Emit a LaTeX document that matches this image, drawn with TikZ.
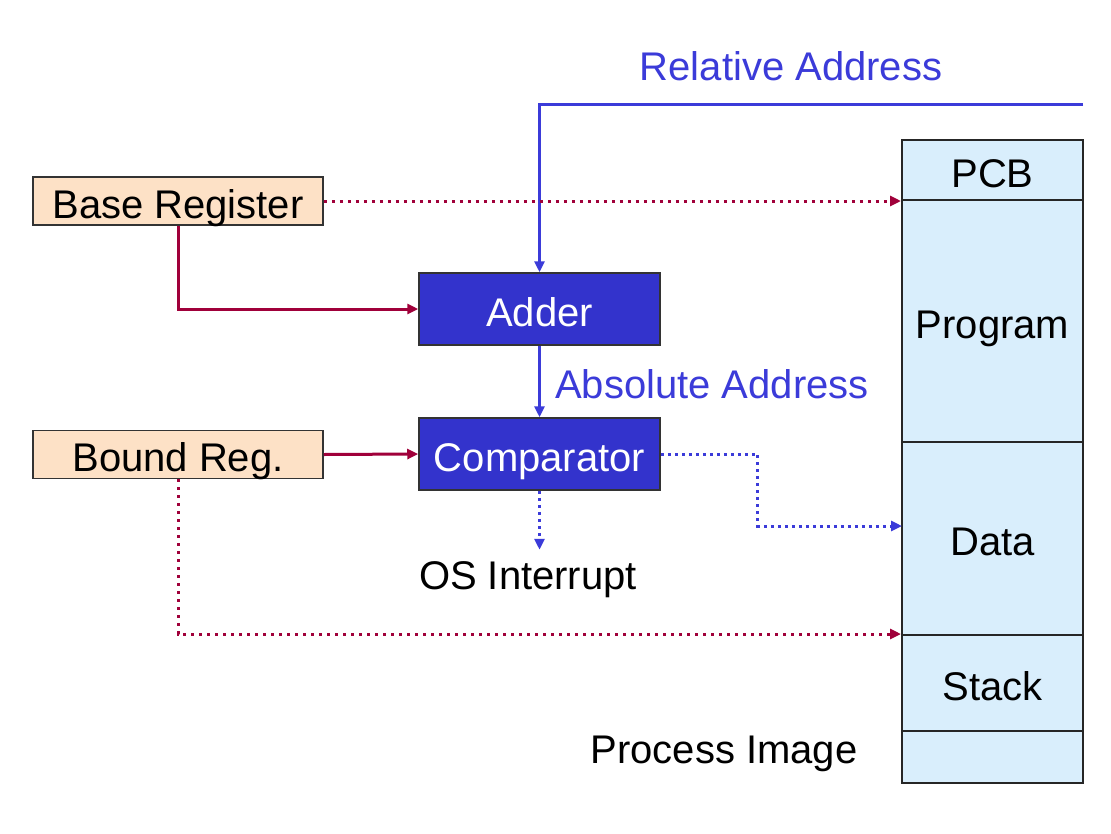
\documentclass[tikz,border=0pt]{standalone}
\usepackage{fontspec}
\setmainfont{Liberation Sans}
\usetikzlibrary{arrows.meta}
\definecolor{lineblue}{HTML}{3B3BD9}
\definecolor{boxblue}{HTML}{3333CC}
\definecolor{linered}{HTML}{A0003A}
\definecolor{peach}{HTML}{FDE1C6}
\definecolor{cellblue}{HTML}{D9EEFC}
\begin{document}
\begin{tikzpicture}[x=1pt,y=-1pt, font=\fontsize{40}{48}\selectfont,
  reg/.style={draw=black!80, line width=1.5pt, fill=peach, minimum width=290pt, minimum height=48pt, inner sep=0pt, text height=34pt, text depth=0pt},
  unit/.style={draw=black!80, line width=1.5pt, fill=boxblue, text=white, minimum width=241pt, minimum height=72pt, inner sep=0pt, text height=34pt, text depth=0pt},
  cell/.style={draw=black!85, line width=2pt, fill=cellblue, minimum width=181pt, inner sep=0pt, text height=34pt, text depth=0pt},
  tip/.style={-{Triangle[length=11pt,width=10pt]}},
  redline/.style={draw=linered, line width=3pt, tip},
  reddot/.style={draw=linered, line width=3pt, dash pattern=on 3pt off 5pt, tip},
  blueline/.style={draw=lineblue, line width=3pt, tip},
  bluedot/.style={draw=lineblue, line width=3pt, dash pattern=on 3pt off 4pt, tip},
  lbl/.style={inner sep=0pt}
]
\useasboundingbox[fill=white] (0,0) rectangle (1111,833);
% process image cells
\node[cell, minimum height=60pt]  (pcb)   at (992.5,170)   {PCB};
\node[cell, minimum height=242pt] (prog)  at (992.5,321)   {Program};
\node[cell, minimum height=193pt] (data)  at (992.5,538.5) {Data};
\node[cell, minimum height=96pt]  (stack) at (992.5,683)   {Stack};
\node[cell, minimum height=52pt]  (empty) at (992.5,757)   {};
% registers and units
\node[reg]  (base)  at (178,201)   {Base Register};
\node[reg]  (bound) at (178,454.5) {Bound Reg.};
\node[unit] (adder) at (539.5,309) {Adder};
\node[unit] (comp)  at (539.5,454) {Comparator};
% labels
\node[lbl, text=lineblue] (rel) at (791,66)  {Relative Address};
\node[lbl, text=lineblue] (abs) at (712,384) {Absolute Address};
\node[lbl] (os)   at (528,580) {OS Interrupt};
\node[lbl] (pimg) at (724,754) {Process Image};
% coordinates
\coordinate (relstart) at (1083,104);
\coordinate (datain) at (902,526);
% connectors
\draw[blueline] (relstart) -| (adder.north);
\draw[reddot] (base.east) -- (pcb.south west);
\draw[redline] (base.south) |- (adder.west);
\draw[blueline] (adder.south) -- (comp.north);
\draw[redline] (bound.east) -- (comp.west);
\draw[bluedot] (comp.east) -- ++(97,0) |- (datain);
\draw[bluedot] (comp.south) -- ++(0,59);
\draw[reddot] (bound.south) |- (stack.north west);
\end{tikzpicture}
\end{document}
